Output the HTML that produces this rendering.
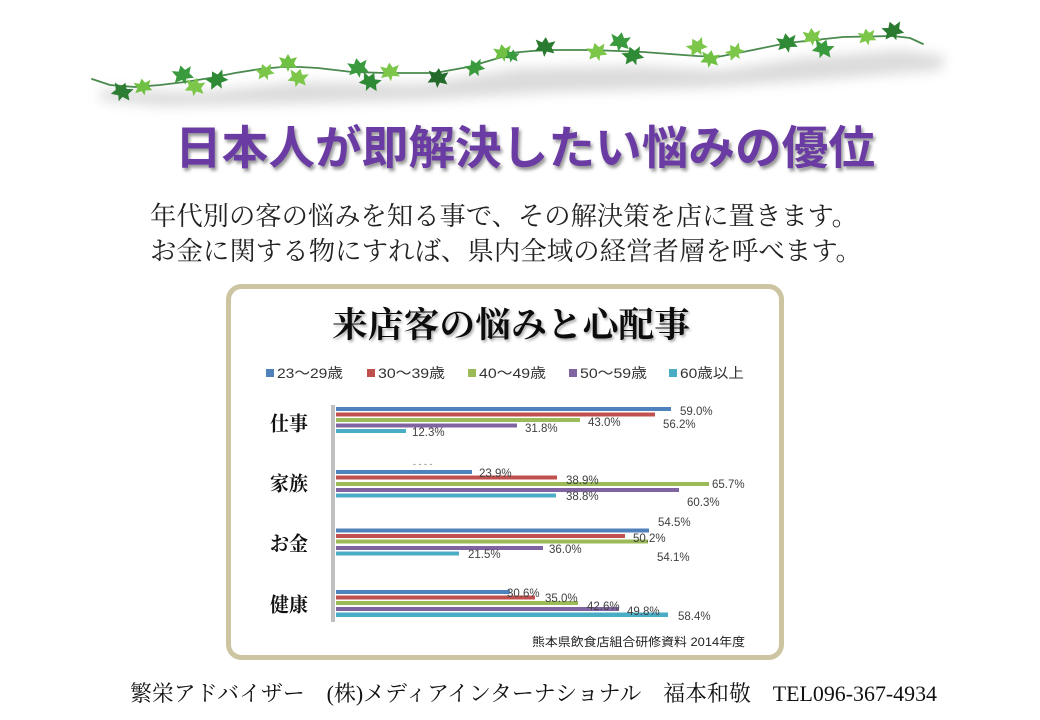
<!DOCTYPE html>
<html><head><meta charset="utf-8"><style>
html,body{margin:0;padding:0;background:#fff;width:1040px;height:720px;overflow:hidden}
svg{display:block}
</style></head><body>
<svg width="1040" height="720" viewBox="0 0 1040 720" xmlns="http://www.w3.org/2000/svg">
<defs>
<filter id="blur8" x="-10%" y="-50%" width="120%" height="200%"><feGaussianBlur stdDeviation="6"/></filter>
<filter id="tsh" x="-5%" y="-20%" width="110%" height="150%"><feDropShadow dx="2" dy="3" stdDeviation="1.6" flood-color="#6a6a6a" flood-opacity="0.7"/></filter>
<filter id="tsh2" x="-5%" y="-20%" width="110%" height="150%"><feDropShadow dx="1.5" dy="2" stdDeviation="1.2" flood-color="#888" flood-opacity="0.7"/></filter>
<path id="lf" d="M0,-9 L3,-4 L9,-6 L6,0 L9,5 L2,4 L0,9 L-2,4 L-9,5 L-6,0 L-9,-6 L-3,-4 Z"/>
</defs>

<!-- vine shadow -->
<polygon points="100,90 200,92 300,82 420,84 520,68 640,66 720,70 800,58 900,50 945,56 940,70 820,80 700,88 560,92 420,100 280,104 160,106 100,100" fill="#9a9a9a" opacity="0.35" filter="url(#blur8)"/>

<!-- vine stem -->
<polyline points="92,79 110,85 135,87 160,85 185,82 210,78 235,73 260,69 282,67 300,67 318,68 352,72 385,73 410,73 435,73 468,67 485,62 502,57 510,53 543,50 593,50 643,52 697,56 717,57 743,52 787,43 843,37 893,36 910,38 923,44" fill="none" stroke="#4a8a4e" stroke-width="1.8" stroke-linejoin="round" stroke-linecap="round"/>

<!-- leaves -->
<g>
<use href="#lf" transform="translate(122,92) rotate(20) scale(1.1)" fill="#2e7d34"/>
<use href="#lf" transform="translate(143,87) rotate(-10) scale(0.95)" fill="#6fc043"/>
<use href="#lf" transform="translate(183,75) rotate(-15) scale(1.1)" fill="#3a9a3e"/>
<use href="#lf" transform="translate(195,87) rotate(10) scale(1.05)" fill="#7cc74a"/>
<use href="#lf" transform="translate(217,80) rotate(-30) scale(1.1)" fill="#2f8a36"/>
<use href="#lf" transform="translate(265,72) rotate(-20) scale(0.95)" fill="#7cc74a"/>
<use href="#lf" transform="translate(288,63) rotate(0) scale(1)" fill="#6fc043"/>
<use href="#lf" transform="translate(298,78) rotate(15) scale(1.05)" fill="#7cc74a"/>
<use href="#lf" transform="translate(358,68) rotate(-10) scale(1.1)" fill="#3a9a3e"/>
<use href="#lf" transform="translate(370,82) rotate(25) scale(1.1)" fill="#2f8a36"/>
<use href="#lf" transform="translate(390,72) rotate(-5) scale(1.05)" fill="#7cc74a"/>
<use href="#lf" transform="translate(438,78) rotate(5) scale(1.1)" fill="#236b2a"/>
<use href="#lf" transform="translate(475,68) rotate(-25) scale(1)" fill="#3a9a3e"/>
<use href="#lf" transform="translate(503,53) rotate(-10) scale(1)" fill="#6fc043"/>
<use href="#lf" transform="translate(512,56) rotate(15) scale(0.75)" fill="#3a9a3e"/>
<use href="#lf" transform="translate(545,47) rotate(5) scale(1.1)" fill="#2a7a30"/>
<use href="#lf" transform="translate(597,52) rotate(-15) scale(1.05)" fill="#7cc74a"/>
<use href="#lf" transform="translate(620,42) rotate(10) scale(1.1)" fill="#3a9a3e"/>
<use href="#lf" transform="translate(633,56) rotate(-20) scale(1.1)" fill="#2f8a36"/>
<use href="#lf" transform="translate(697,47) rotate(-30) scale(1.05)" fill="#7cc74a"/>
<use href="#lf" transform="translate(710,59) rotate(10) scale(1)" fill="#6fc043"/>
<use href="#lf" transform="translate(735,52) rotate(-35) scale(0.95)" fill="#7cc74a"/>
<use href="#lf" transform="translate(787,43) rotate(-10) scale(1.1)" fill="#2f8a36"/>
<use href="#lf" transform="translate(812,37) rotate(-5) scale(1)" fill="#7cc74a"/>
<use href="#lf" transform="translate(823,49) rotate(20) scale(1.1)" fill="#3a9a3e"/>
<use href="#lf" transform="translate(867,37) rotate(-10) scale(0.95)" fill="#7cc74a"/>
<use href="#lf" transform="translate(893,31) rotate(-20) scale(1.1)" fill="#2a7a30"/>
</g>

<!-- main title -->
<text x="175" y="164" textLength="700" lengthAdjust="spacingAndGlyphs" font-family="'Liberation Sans','Noto Sans CJK JP',sans-serif" font-weight="bold" font-size="46" fill="#6b3aa2" filter="url(#tsh)">日本人が即解決したい悩みの優位</text>

<!-- subtitle -->
<text x="150" y="225" textLength="708" lengthAdjust="spacingAndGlyphs" font-family="'Liberation Serif','Noto Serif CJK SC',serif" font-size="26" fill="#222">年代別の客の悩みを知る事で、その解決策を店に置きます。</text>
<text x="150" y="260" textLength="712" lengthAdjust="spacingAndGlyphs" font-family="'Liberation Serif','Noto Serif CJK SC',serif" font-size="26" fill="#222">お金に関する物にすれば、県内全域の経営者層を呼べます。</text>

<!-- chart box -->
<rect x="228.5" y="286.5" width="553" height="371" rx="13" ry="13" fill="#fff" stroke="#cdc5a2" stroke-width="5"/>

<text x="332" y="337" textLength="358" lengthAdjust="spacingAndGlyphs" font-family="'Liberation Serif','Noto Serif CJK SC',serif" font-weight="bold" font-size="35" fill="#111" filter="url(#tsh2)">来店客の悩みと心配事</text>

<!-- legend -->
<g font-family="'Liberation Sans','Noto Sans CJK JP',sans-serif" font-size="14" fill="#333">
<rect x="266" y="369" width="8" height="8" fill="#4f81bd"/><text x="277" y="378" textLength="66" lengthAdjust="spacingAndGlyphs">23～29歳</text>
<rect x="367" y="369" width="8" height="8" fill="#c0504d"/><text x="378" y="378" textLength="67" lengthAdjust="spacingAndGlyphs">30～39歳</text>
<rect x="468" y="369" width="8" height="8" fill="#9bbb59"/><text x="479" y="378" textLength="67" lengthAdjust="spacingAndGlyphs">40～49歳</text>
<rect x="569" y="369" width="8" height="8" fill="#8064a2"/><text x="580" y="378" textLength="67" lengthAdjust="spacingAndGlyphs">50～59歳</text>
<rect x="669" y="369" width="8" height="8" fill="#4bacc6"/><text x="680" y="378" textLength="64" lengthAdjust="spacingAndGlyphs">60歳以上</text>
</g>

<!-- axis -->
<rect x="331" y="405" width="4" height="217" fill="#c0c0c0"/>

<!-- bars -->
<g>
<rect x="336" y="407" width="335" height="4" fill="#4f81bd"/>
<rect x="336" y="412.5" width="319" height="4" fill="#c0504d"/>
<rect x="336" y="418" width="244" height="4" fill="#9bbb59"/>
<rect x="336" y="423.5" width="181" height="4" fill="#8064a2"/>
<rect x="336" y="429" width="70" height="4" fill="#4bacc6"/>

<rect x="336" y="470" width="136" height="4" fill="#4f81bd"/>
<rect x="336" y="475.5" width="221" height="4" fill="#c0504d"/>
<rect x="336" y="482" width="373" height="4" fill="#9bbb59"/>
<rect x="336" y="488" width="343" height="4" fill="#8064a2"/>
<rect x="336" y="493.5" width="220" height="4" fill="#4bacc6"/>

<rect x="336" y="528.5" width="313" height="4" fill="#4f81bd"/>
<rect x="336" y="534" width="289" height="4" fill="#c0504d"/>
<rect x="336" y="539.5" width="312" height="4" fill="#9bbb59"/>
<rect x="336" y="546" width="207" height="4" fill="#8064a2"/>
<rect x="336" y="551.5" width="123" height="4" fill="#4bacc6"/>

<rect x="336" y="590" width="174" height="4" fill="#4f81bd"/>
<rect x="336" y="595.5" width="199" height="4" fill="#c0504d"/>
<rect x="336" y="601" width="242" height="4" fill="#9bbb59"/>
<rect x="336" y="607" width="283" height="4" fill="#8064a2"/>
<rect x="336" y="612.5" width="332" height="4.5" fill="#4bacc6"/>
</g>

<!-- category labels -->
<g font-family="'Liberation Serif','Noto Serif CJK SC',serif" font-weight="bold" font-size="20" fill="#111">
<text x="270" y="430.5" textLength="38" lengthAdjust="spacingAndGlyphs">仕事</text>
<text x="270" y="490.5" textLength="38" lengthAdjust="spacingAndGlyphs">家族</text>
<text x="270" y="550.5" textLength="38" lengthAdjust="spacingAndGlyphs">お金</text>
<text x="270" y="611.5" textLength="38" lengthAdjust="spacingAndGlyphs">健康</text>
</g>

<!-- data labels -->
<g font-family="'Liberation Sans',sans-serif" font-size="11.5" fill="#404040">
<text x="680" y="415">59.0%</text>
<text x="663" y="428">56.2%</text>
<text x="588" y="426">43.0%</text>
<text x="525" y="432">31.8%</text>
<text x="412" y="436">12.3%</text>

<text x="413" y="467" fill="#777" font-size="9">- - - -</text>
<text x="479" y="477">23.9%</text>
<text x="566" y="484">38.9%</text>
<text x="712" y="488">65.7%</text>
<text x="566" y="500">38.8%</text>
<text x="687" y="506">60.3%</text>

<text x="658" y="526">54.5%</text>
<text x="633" y="542">50.2%</text>
<text x="549" y="553">36.0%</text>
<text x="468" y="558">21.5%</text>
<text x="657" y="561">54.1%</text>

<text x="507" y="597">30.6%</text>
<text x="545" y="602">35.0%</text>
<text x="587" y="610">42.6%</text>
<text x="627" y="615">49.8%</text>
<text x="678" y="620">58.4%</text>
</g>

<!-- source -->
<text x="532" y="646" textLength="213" lengthAdjust="spacingAndGlyphs" font-family="'Liberation Sans','Noto Sans CJK JP',sans-serif" font-size="12" fill="#222">熊本県飲食店組合研修資料  2014年度</text>

<!-- footer -->
<text x="130" y="701" textLength="807" lengthAdjust="spacingAndGlyphs" font-family="'Liberation Serif','Noto Serif CJK SC',serif" font-size="22" fill="#111">繁栄アドバイザー　(株)メディアインターナショナル　福本和敬　TEL096-367-4934</text>
</svg>
</body></html>
